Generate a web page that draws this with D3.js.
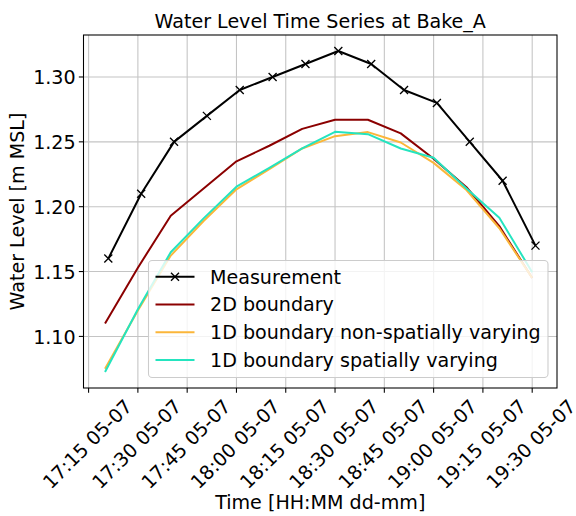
<!DOCTYPE html>
<html><head><meta charset="utf-8">
<script src="https://cdn.jsdelivr.net/npm/d3@7"></script>
<style>
body{margin:0;background:#fff}
text{font-family:"DejaVu Sans",sans-serif;fill:#000}
</style>
</head><body>
<svg id="c" width="576" height="516"></svg>
<script>
// ---- data ----
const modelTimes = ["17:20","17:30","17:40","17:50","18:00","18:10","18:20","18:30","18:40","18:50","19:00","19:10","19:20","19:30"];
const measTimes  = ["17:21","17:31","17:41","17:51","18:01","18:11","18:21","18:31","18:41","18:51","19:01","19:11","19:21","19:31"];
const measurement = [1.16,1.21,1.25,1.27,1.29,1.30,1.31,1.32,1.31,1.29,1.28,1.25,1.22,1.17];
const boundary2D = [1.110,1.153,1.193,1.214,1.235,1.247,1.260,1.267,1.267,1.2565,1.237,1.215,1.185,1.145];
const boundary1DNonSpatial = [1.075,1.120,1.1623,1.189,1.2134,1.229,1.2449,1.2544,1.2575,1.2495,1.2338,1.2128,1.1834,1.1451];
const boundary1DSpatial = [1.0726,1.121,1.1649,1.191,1.2154,1.230,1.2449,1.2577,1.2559,1.2449,1.2377,1.2141,1.1915,1.1495];
const seriesNames = ["Measurement","2D boundary","1D boundary non-spatially varying","1D boundary spatially varying"];
const seriesColors = ["#000000","#8b0000","#fbb63a","#24e4bf"];
const xTickTimes = ["17:15","17:30","17:45","18:00","18:15","18:30","18:45","19:00","19:15","19:30"];
const xTickLabels = ["17:15 05-07","17:30 05-07","17:45 05-07","18:00 05-07","18:15 05-07","18:30 05-07","18:45 05-07","19:00 05-07","19:15 05-07","19:30 05-07"];
const yTicks = [1.10,1.15,1.20,1.25,1.30];
const yTickLabels = ["1.10","1.15","1.20","1.25","1.30"];
const titleText = "Water Level Time Series at Bake_A";
const xLabel = "Time [HH:MM dd-mm]";
const yLabel = "Water Level [m MSL]";

// ---- layout ----
const FS = 19.1;
const L = 83.5, R = 557, T = 35, B = 388;
const parse = d3.timeParse("%Y-%m-%d %H:%M");
const toDate = t => parse("2023-07-05 " + t);

const mT = modelTimes.map(toDate), sT = measTimes.map(toDate);
const allT = mT.concat(sT);
const tMin = d3.min(allT), tMax = d3.max(allT);
const tPad = (tMax - tMin) * 0.05;
const x = d3.scaleTime().domain([new Date(+tMin - tPad), new Date(+tMax + tPad)]).range([L, R]);

const allV = measurement.concat(boundary2D, boundary1DNonSpatial, boundary1DSpatial);
const vMin = d3.min(allV), vMax = d3.max(allV), vPad = (vMax - vMin) * 0.05;
const y = d3.scaleLinear().domain([vMin - vPad, vMax + vPad]).range([B, T]);

const svg = d3.select("#c");
svg.append("rect").attr("width",576).attr("height",516).attr("fill","#fff");

// grid
const g = svg.append("g");
g.selectAll(".gx").data(xTickTimes).enter().append("line")
  .attr("x1", d => x(toDate(d))).attr("x2", d => x(toDate(d)))
  .attr("y1", T).attr("y2", B).attr("stroke", "#c4c4c4").attr("stroke-width", 1.07);
g.selectAll(".gy").data(yTicks).enter().append("line")
  .attr("y1", d => y(d)).attr("y2", d => y(d))
  .attr("x1", L).attr("x2", R).attr("stroke", "#c4c4c4").attr("stroke-width", 1.07);

// lines
const line = d3.line().x(d => x(d[0])).y(d => y(d[1]));
const seriesData = [
  sT.map((t,i) => [t, measurement[i]]),
  mT.map((t,i) => [t, boundary2D[i]]),
  mT.map((t,i) => [t, boundary1DNonSpatial[i]]),
  mT.map((t,i) => [t, boundary1DSpatial[i]])
];
seriesData.forEach((sd, k) => {
  svg.append("path").attr("d", line(sd)).attr("fill","none")
    .attr("stroke", seriesColors[k]).attr("stroke-width", 2)
    .attr("stroke-linejoin","round").attr("stroke-linecap","butt");
  if (k === 0) {
    svg.selectAll(".mk").data(sd).enter().append("path")
      .attr("transform", d => `translate(${x(d[0])},${y(d[1])})`)
      .attr("d", "M-4,-4L4,4M-4,4L4,-4").attr("stroke","#000").attr("stroke-width",1.33).attr("fill","none");
  }
});

// spines
svg.append("rect").attr("x", L).attr("y", T).attr("width", R - L).attr("height", B - T)
  .attr("fill","none").attr("stroke","#000").attr("stroke-width",1.07);

// x ticks
const TL = 4.67, PAD = 4.67;
const c45 = Math.SQRT1_2;
xTickTimes.forEach((t, i) => {
  const tx = x(toDate(t));
  svg.append("line").attr("x1", tx).attr("x2", tx).attr("y1", B).attr("y2", B + TL)
    .attr("stroke","#000").attr("stroke-width",1.07);
  const txt = svg.append("text").attr("font-size", FS).text(xTickLabels[i]);
  const w = txt.node().getComputedTextLength();
  const a = 0.76 * FS, dsc = 0.24 * FS;
  const x0 = tx - (w * c45 + (dsc - a) * c45) / 2;
  const y0 = B + TL + PAD + w * c45 + a * c45;
  txt.attr("transform", `translate(${x0},${y0}) rotate(-45)`);
});

// y ticks
yTicks.forEach((v, i) => {
  const ty = y(v);
  svg.append("line").attr("x1", L - TL).attr("x2", L).attr("y1", ty).attr("y2", ty)
    .attr("stroke","#000").attr("stroke-width",1.07);
  svg.append("text").attr("font-size", FS).attr("text-anchor","end")
    .attr("x", L - TL - PAD + 1.5).attr("y", ty + 7.3).text(yTickLabels[i]);
});

// labels
svg.append("text").attr("font-size", FS).attr("text-anchor","middle")
  .attr("x", (L + R) / 2).attr("y", 28.3).text(titleText);
svg.append("text").attr("font-size", FS).attr("text-anchor","middle")
  .attr("x", (L + R) / 2).attr("y", 508.5).text(xLabel);
svg.append("text").attr("font-size", FS).attr("text-anchor","middle")
  .attr("transform", `translate(24,${(T + B) / 2}) rotate(-90)`).text(yLabel);

// legend
const lg = svg.append("g");
lg.append("rect").attr("x",148.5).attr("y",260.5).attr("width",399.5).attr("height",117)
  .attr("rx",3.7).attr("fill","#fff").attr("fill-opacity",0.8)
  .attr("stroke","#cccccc").attr("stroke-width",1.07);
const rowY0 = 276.7, rowDy = 27.8;
seriesNames.forEach((nm, k) => {
  const ry = rowY0 + k * rowDy;
  lg.append("line").attr("x1",155.5).attr("x2",194.5).attr("y1",ry).attr("y2",ry)
    .attr("stroke", seriesColors[k]).attr("stroke-width",2);
  if (k === 0) {
    lg.append("path").attr("transform",`translate(175,${ry})`).attr("d","M-4,-4L4,4M-4,4L4,-4")
      .attr("stroke","#000").attr("stroke-width",1.33);
  }
  lg.append("text").attr("font-size", FS).attr("x", 210).attr("y", ry + 6.9).text(nm);
});
</script>
</body></html>
